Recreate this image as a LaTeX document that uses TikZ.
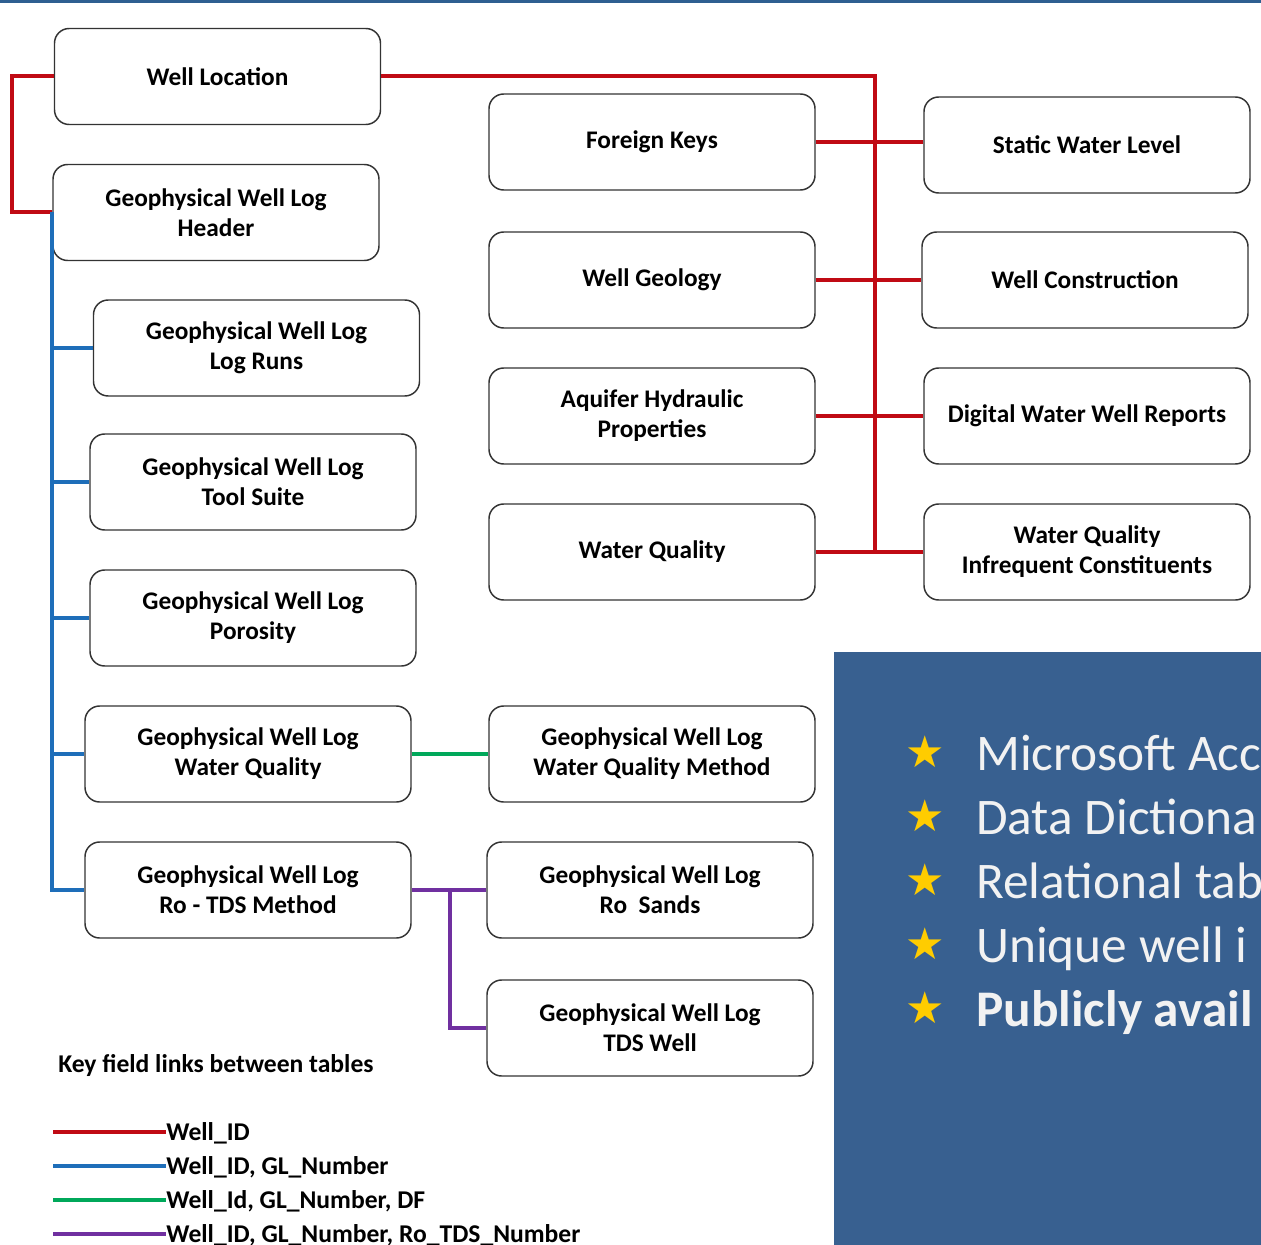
\documentclass[tikz,border=0pt]{standalone}
\usepackage{fontspec}
\setmainfont{Carlito}
\newfontfamily\symfont{DejaVu Sans}
\begin{document}
\begin{tikzpicture}[x=0.75pt,y=-0.75pt,
  tbl/.style={draw=black!80, line width=1.1pt, rounded corners=11pt, fill=white,
    minimum width=244.5pt, minimum height=72pt, inner sep=0pt, align=center,
    font=\fontsize{19}{22.5}\selectfont\bfseries},
  redl/.style={draw=linkred, line width=3pt},
  bluel/.style={draw=linkblue, line width=3pt},
  greenl/.style={draw=linkgreen, line width=3pt},
  purpl/.style={draw=linkpurple, line width=3pt},
  legtext/.style={anchor=base west, inner sep=0pt, font=\fontsize{19.2}{22.5}\selectfont\bfseries},
  bullettext/.style={anchor=base west, inner sep=0pt, text=panelink, font=\fontsize{38.5}{48}\selectfont},
  starnode/.style={inner sep=0pt, text=stargold, font=\symfont\fontsize{33}{33}\selectfont}
]
\definecolor{linkred}{RGB}{192,10,20}
\definecolor{linkblue}{RGB}{30,110,185}
\definecolor{linkgreen}{RGB}{0,168,90}
\definecolor{linkpurple}{RGB}{112,48,160}
\definecolor{panelblue}{RGB}{56,96,144}
\definecolor{topbar}{RGB}{46,95,145}
\definecolor{stargold}{RGB}{255,204,0}
\definecolor{panelink}{RGB}{242,242,242}

\useasboundingbox (0,0) rectangle (1261,1245);
\fill[white] (0,0) rectangle (1261,1245);
\fill[topbar] (0,0) rectangle (1261,3.5);

% left column: header and log tables
\node[tbl] (wl)   at (217.5,76.5) {Well Location};
\node[tbl] (hdr)  at (216,212.5)  {Geophysical Well Log\\Header};
\node[tbl] (lr)   at (256.5,348)  {Geophysical Well Log\\Log Runs};
\node[tbl] (ts)   at (253,482)    {Geophysical Well Log\\Tool Suite};
\node[tbl] (por)  at (253,618)    {Geophysical Well Log\\Porosity};
\node[tbl] (gwq)  at (248,754)    {Geophysical Well Log\\Water Quality};
\node[tbl] (rtds) at (248,890)    {Geophysical Well Log\\Ro - TDS Method};

% middle column
\node[tbl] (fk)   at (652,142)  {Foreign Keys};
\node[tbl] (wg)   at (652,280)  {Well Geology};
\node[tbl] (ahp)  at (652,416)  {Aquifer Hydraulic\\Properties};
\node[tbl] (wq)   at (652,552)  {Water Quality};
\node[tbl] (wqm)  at (652,754)  {Geophysical Well Log\\Water Quality Method};
\node[tbl] (ros)  at (650,890)  {Geophysical Well Log\\Ro\ \ Sands};
\node[tbl] (tds)  at (650,1028) {Geophysical Well Log\\TDS Well};

% right column
\node[tbl] (swl)  at (1087,145) {Static Water Level};
\node[tbl] (wc)   at (1085,280) {Well Construction};
\node[tbl] (dwr)  at (1087,416) {Digital Water Well Reports};
\node[tbl] (wqi)  at (1087,552) {Water Quality\\Infrequent Constituents};

% Well_ID links
\coordinate (tk) at (875,0);
\draw[redl] (wl.west) -- ++(-42,0) |- (hdr.west);
\draw[redl] (wl.east) -| (tk |- wq.east);
\draw[redl] (fk.east)  -- (swl.west |- fk.east);
\draw[redl] (wg.east)  -- (wc.west);
\draw[redl] (ahp.east) -- (dwr.west);
\draw[redl] (wq.east)  -- (wqi.west);

% Well_ID, GL_Number links
\draw[bluel] (hdr.west) |- (rtds.west);
\draw[bluel] (hdr.west |- lr.west)  -- (lr.west);
\draw[bluel] (hdr.west |- ts.west)  -- (ts.west);
\draw[bluel] (hdr.west |- por.west) -- (por.west);
\draw[bluel] (hdr.west |- gwq.west) -- (gwq.west);

% Well_Id, GL_Number, DF link
\draw[greenl] (gwq.east) -- (wqm.west);

% Well_ID, GL_Number, Ro_TDS_Number links
\draw[purpl] (rtds.east) -- (ros.west);
\draw[purpl] (rtds.east) ++(38,0) |- (tds.west);

% legend
\node[legtext] (legtitle) at (58,1072) {Key field links between tables};
\coordinate (la) at (53,1132);
\coordinate (lb) at (53,1166);
\coordinate (lc) at (53,1200);
\coordinate (ld) at (53,1234);
\node[legtext] (ta) at (166,1140) {Well\_ID};
\node[legtext] (tb) at (166,1174) {Well\_ID, GL\_Number};
\node[legtext] (tc) at (166,1208) {Well\_Id, GL\_Number, DF};
\node[legtext] (td) at (166,1242) {Well\_ID, GL\_Number, Ro\_TDS\_Number};
\draw[redl]   (la) -- (la -| ta.west);
\draw[bluel]  (lb) -- (lb -| tb.west);
\draw[greenl] (lc) -- (lc -| tc.west);
\draw[purpl]  (ld) -- (ld -| td.west);

% highlights panel, its lines running off the right edge
\fill[panelblue] (834,652) rectangle (1261,1245);
\begin{scope}
  \clip (834,652) rectangle (1261,1245);
  \node[starnode] (s1) at (925,752)  {★};
  \node[starnode] (s2) at (925,816)  {★};
  \node[starnode] (s3) at (925,880)  {★};
  \node[starnode] (s4) at (925,944)  {★};
  \node[starnode] (s5) at (925,1008) {★};
  \node[bullettext] (b1) at (976,770)  {Microsoft Acc};
  \node[bullettext] (b2) at (976,834)  {Data Dictiona};
  \node[bullettext] (b3) at (976,898)  {Relational tab};
  \node[bullettext] (b4) at (976,962)  {Unique well i};
  \node[bullettext, font=\fontsize{38.5}{48}\selectfont\bfseries] (b5) at (976,1026) {Publicly avail};
\end{scope}
\end{tikzpicture}
\end{document}
